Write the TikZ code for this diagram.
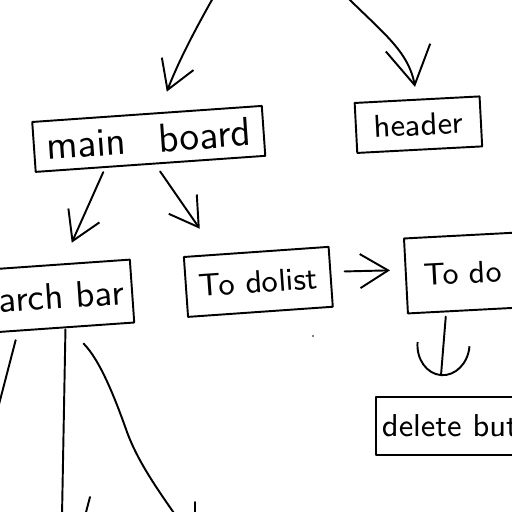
\documentclass[tikz,border=0pt]{standalone}
\usetikzlibrary{arrows.meta,calc}
\tikzset{
  ink/.style={line width=0.55pt, line cap=round, line join=round},
  box/.style={draw, ink, font=\sffamily\fontsize{9}{11}\selectfont, inner ysep=0pt},
  arr/.style={ink, -{Straight Barb[length=0.28cm,width=0.34cm]}},
  bigarr/.style={ink, -{Straight Barb[length=0.38cm,width=0.45cm]}},
  cuparr/.style={ink, -{Arc Barb[length=0.32cm,width=0.54cm]}},
}
\begin{document}
\begin{tikzpicture}[x=0.01cm,y=0.01cm]
\useasboundingbox (0,0) rectangle (512,-512);
\clip (0,0) rectangle (512,-512);

% boxes
\node[box, anchor=west, rotate=4, minimum width=2.3cm, minimum height=0.5cm,
      font=\sffamily\fontsize{11.5}{13}\selectfont] (mainb) at (33,-147) {main\hspace{0.8em}board};
\node[box, anchor=west, rotate=3, minimum width=1.25cm, minimum height=0.5cm] (header) at (355,-128) {header};
\node[box, anchor=east, rotate=4, inner xsep=0.08cm, minimum height=0.63cm,
      font=\sffamily\fontsize{10.5}{12}\selectfont] (search) at (133,-291) {search bar};
\node[box, anchor=west, rotate=4, minimum width=1.45cm, minimum height=0.6cm] (todolist) at (185,-287) {To dolist};
\node[box, anchor=west, rotate=3, inner xsep=0.18cm, minimum height=0.75cm,
      font=\sffamily\fontsize{8.8}{11}\selectfont] (todoitem) at (405,-276) {To do item};
\node[box, anchor=west, inner xsep=0.06cm, minimum height=0.58cm] (delete) at (375,-426) {delete button};

% free ends
\coordinate (top1) at (213,2);
\coordinate (top2) at (348,2);
\coordinate (e1) at (-3,-412);
\coordinate (e2) at (62,-516);
\coordinate (e3) at (176,-516);

% connectors
\draw[arr, shorten >=0.22cm] (top1) to[bend right=4] (mainb);
\draw[bigarr, shorten >=0.12cm] (top2) to[out=-45,in=100] (header.north);
\draw[arr, shorten <=0.08cm, shorten >=0.24cm] ([xshift=-0.44cm]mainb.south) -- ([xshift=0.18cm]search.north);
\draw[arr, shorten <=0.08cm, shorten >=0.27cm] ([xshift=0.05cm]mainb.south) -- ([xshift=-0.41cm]todolist.north);
\draw[arr, shorten <=0.13cm, shorten >=0.15cm] ([yshift=0.05cm]todolist.east) -- ([yshift=0.06cm]todoitem.west);
\draw[cuparr, shorten <=0.07cm, shorten >=0.2cm] ([xshift=-0.53cm]todoitem.south) -- ([xshift=-0.33cm]delete.north);

\draw[ink, shorten <=0.11cm] ([xshift=-0.3cm]search.south) -- (e1);
\draw[ink] ([xshift=0.17cm]search.south) -- (e2);
\draw[ink] ([xshift=0.35cm,yshift=-0.14cm]search.south) .. controls (100,-360) and (115,-398) .. (127,-432)
      .. controls (138,-462) and (158,-490) .. (e3);

% stray strokes at the bottom edge
\draw[ink] (90,-497) -- (85,-516);
\draw[ink] (195,-502) -- (195,-516);
\fill (313,-336) circle (0.9);
\end{tikzpicture}
\end{document}
